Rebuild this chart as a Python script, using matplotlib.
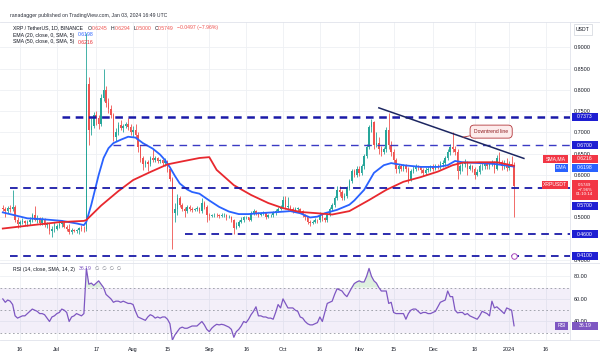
import numpy as np
import matplotlib
matplotlib.use('Agg')
import matplotlib.pyplot as plt
import matplotlib.dates as mdates
from matplotlib.patches import Rectangle
from matplotlib.lines import Line2D

plt.rcParams['font.family'] = ['Liberation Sans', 'DejaVu Sans']
plt.rcParams['lines.scale_dashes'] = False

W, H = 600, 357

# XRP/USDT daily candles 2023-06-09 .. 2024-01-03, open = previous close
first_open = 0.522
close = [
    0.520, 0.515, 0.522, 0.520, 0.525, 0.495, 0.485, 0.490, 0.492, 0.486, 0.490, 0.495, 0.505, 0.495, 0.498, 0.487, 0.493, 0.482, 0.485, 0.468, 0.472, 0.473,
    0.480, 0.485, 0.488, 0.478, 0.472, 0.466, 0.470, 0.468, 0.470, 0.475, 0.473, 0.472, 0.815, 0.705, 0.715, 0.742, 0.735, 0.720, 0.780, 0.800, 0.770, 0.755, 0.740, 0.690, 0.700, 0.718, 0.710, 0.715, 0.720, 0.712, 0.700,
    0.705, 0.695, 0.665, 0.640, 0.625, 0.630, 0.625, 0.640, 0.635, 0.640, 0.632, 0.635, 0.628, 0.632, 0.615, 0.590, 0.510, 0.520, 0.545, 0.530, 0.520, 0.515, 0.525, 0.520, 0.518, 0.520, 0.522, 0.515, 0.535, 0.525, 0.505,
    0.503, 0.505, 0.507, 0.505, 0.503, 0.505, 0.506, 0.500, 0.502, 0.495, 0.475, 0.480, 0.490, 0.495, 0.500, 0.500, 0.495, 0.510, 0.515, 0.510, 0.505, 0.510, 0.512, 0.500, 0.505, 0.505, 0.510, 0.515, 0.520, 0.525,
    0.540, 0.525, 0.525, 0.520, 0.515, 0.520, 0.520, 0.515, 0.505, 0.500, 0.490, 0.488, 0.490, 0.495, 0.493, 0.505, 0.498, 0.495, 0.505, 0.520, 0.530, 0.545, 0.565, 0.560, 0.545, 0.550, 0.570, 0.585, 0.610, 0.600, 0.615,
    0.605, 0.620, 0.645, 0.665, 0.712, 0.725, 0.670, 0.675, 0.660, 0.655, 0.660, 0.705, 0.670, 0.655, 0.635, 0.615, 0.620, 0.615, 0.622, 0.615, 0.590, 0.610, 0.615, 0.620, 0.618, 0.612, 0.605, 0.612, 0.615, 0.620,
    0.615, 0.622, 0.620, 0.625, 0.628, 0.640, 0.655, 0.665, 0.660, 0.655, 0.610, 0.620, 0.625, 0.630, 0.615, 0.620, 0.615, 0.600, 0.607, 0.620, 0.622, 0.625, 0.620, 0.625, 0.630, 0.615, 0.640, 0.630, 0.620, 0.620, 0.616,
    0.627, 0.6245, 0.5749,
]
high = [
    0.530, 0.525, 0.528, 0.530, 0.565, 0.530, 0.500, 0.495, 0.498, 0.495, 0.493, 0.500, 0.510, 0.527, 0.505, 0.502, 0.500, 0.498, 0.490, 0.487, 0.480, 0.490,
    0.485, 0.495, 0.495, 0.492, 0.482, 0.484, 0.475, 0.474, 0.474, 0.478, 0.482, 0.480, 0.935, 0.830, 0.735, 0.748, 0.750, 0.742, 0.790, 0.850, 0.810, 0.780, 0.765, 0.745, 0.710, 0.725, 0.730, 0.720, 0.725, 0.735, 0.720,
    0.715, 0.720, 0.700, 0.670, 0.645, 0.635, 0.635, 0.645, 0.662, 0.645, 0.642, 0.638, 0.637, 0.640, 0.635, 0.618, 0.595, 0.535, 0.555, 0.550, 0.535, 0.525, 0.530, 0.530, 0.524, 0.523, 0.526, 0.525, 0.545, 0.538, 0.530,
    0.510, 0.508, 0.510, 0.510, 0.508, 0.510, 0.510, 0.508, 0.505, 0.503, 0.497, 0.490, 0.495, 0.500, 0.503, 0.503, 0.502, 0.515, 0.520, 0.518, 0.512, 0.514, 0.515, 0.513, 0.508, 0.508, 0.515, 0.520, 0.525, 0.530,
    0.550, 0.550, 0.548, 0.530, 0.525, 0.525, 0.524, 0.522, 0.518, 0.508, 0.502, 0.495, 0.495, 0.498, 0.497, 0.512, 0.507, 0.502, 0.508, 0.525, 0.535, 0.550, 0.575, 0.575, 0.565, 0.558, 0.575, 0.590, 0.615, 0.615, 0.620,
    0.620, 0.625, 0.650, 0.672, 0.718, 0.732, 0.728, 0.700, 0.690, 0.668, 0.667, 0.712, 0.745, 0.680, 0.660, 0.640, 0.625, 0.625, 0.626, 0.625, 0.618, 0.615, 0.620, 0.626, 0.624, 0.622, 0.616, 0.618, 0.620, 0.624,
    0.625, 0.626, 0.626, 0.632, 0.635, 0.645, 0.660, 0.672, 0.700, 0.668, 0.660, 0.626, 0.630, 0.637, 0.632, 0.625, 0.624, 0.618, 0.615, 0.625, 0.628, 0.630, 0.628, 0.630, 0.636, 0.632, 0.648, 0.655, 0.635, 0.635, 0.640,
    0.632, 0.645, 0.6294,
]
low = [
    0.515, 0.500, 0.510, 0.512, 0.515, 0.490, 0.475, 0.478, 0.485, 0.482, 0.480, 0.483, 0.490, 0.492, 0.488, 0.483, 0.482, 0.478, 0.476, 0.462, 0.455, 0.465,
    0.470, 0.475, 0.478, 0.475, 0.468, 0.460, 0.462, 0.465, 0.464, 0.462, 0.468, 0.466, 0.468, 0.670, 0.695, 0.710, 0.718, 0.708, 0.715, 0.775, 0.760, 0.745, 0.735, 0.680, 0.680, 0.695, 0.705, 0.700, 0.710, 0.705, 0.695,
    0.690, 0.685, 0.655, 0.630, 0.612, 0.618, 0.610, 0.620, 0.630, 0.630, 0.628, 0.628, 0.622, 0.620, 0.608, 0.585, 0.425, 0.490, 0.505, 0.525, 0.515, 0.500, 0.510, 0.515, 0.512, 0.515, 0.516, 0.510, 0.510, 0.520, 0.490,
    0.495, 0.500, 0.502, 0.500, 0.498, 0.500, 0.500, 0.495, 0.498, 0.490, 0.462, 0.472, 0.478, 0.487, 0.490, 0.496, 0.492, 0.492, 0.505, 0.505, 0.500, 0.503, 0.507, 0.497, 0.498, 0.500, 0.502, 0.506, 0.512, 0.518,
    0.522, 0.520, 0.518, 0.515, 0.510, 0.512, 0.515, 0.510, 0.500, 0.495, 0.485, 0.480, 0.484, 0.488, 0.488, 0.490, 0.492, 0.490, 0.490, 0.503, 0.515, 0.525, 0.540, 0.550, 0.540, 0.540, 0.545, 0.565, 0.580, 0.595, 0.595,
    0.598, 0.600, 0.615, 0.640, 0.660, 0.700, 0.660, 0.665, 0.650, 0.645, 0.650, 0.655, 0.660, 0.645, 0.625, 0.605, 0.605, 0.610, 0.610, 0.608, 0.580, 0.585, 0.605, 0.610, 0.612, 0.605, 0.598, 0.600, 0.608, 0.610,
    0.610, 0.612, 0.614, 0.615, 0.618, 0.622, 0.635, 0.648, 0.655, 0.648, 0.590, 0.602, 0.610, 0.618, 0.600, 0.612, 0.608, 0.590, 0.598, 0.603, 0.612, 0.615, 0.615, 0.615, 0.620, 0.605, 0.612, 0.625, 0.612, 0.615, 0.610,
    0.612, 0.620, 0.500,
]

# EMA 20 and SMA 50 (day index from 2023-06-09, value)
ema_day = [0, 5, 10, 16, 24, 30, 33, 34, 36, 39, 41, 43, 45, 48, 51, 54, 57, 61, 64, 66, 68, 70, 72, 75, 77, 80, 84, 88, 92, 96,
           100, 104, 110, 117, 121, 125, 128, 131, 136, 141, 143, 147, 151, 155, 158, 163, 170, 177, 181, 184, 187, 194, 200, 208]
ema_val = [0.512, 0.505, 0.498, 0.496, 0.492, 0.486, 0.482, 0.490, 0.530, 0.600, 0.640, 0.663, 0.675, 0.683, 0.690, 0.688, 0.675, 0.662, 0.648, 0.635,
           0.618, 0.598, 0.580, 0.566, 0.560, 0.556, 0.540, 0.525, 0.514, 0.508, 0.508, 0.510, 0.512, 0.515, 0.510, 0.500, 0.502, 0.510, 0.518, 0.530,
           0.540, 0.565, 0.605, 0.623, 0.628, 0.623, 0.619, 0.619, 0.623, 0.633, 0.630, 0.628, 0.626, 0.6198]
sma_day = [0, 3, 12, 23, 33, 34, 40, 47, 53, 60, 67, 73, 80, 84, 87, 94, 101, 108, 114, 121, 128, 134, 141, 149, 156, 163, 170, 177, 183, 187,
           194, 201, 208]
sma_val = [0.474, 0.476, 0.482, 0.489, 0.492, 0.494, 0.528, 0.562, 0.588, 0.607, 0.625, 0.632, 0.640, 0.642, 0.612, 0.576, 0.553, 0.534, 0.522, 0.513,
           0.510, 0.507, 0.515, 0.541, 0.565, 0.584, 0.595, 0.608, 0.623, 0.629, 0.630, 0.630, 0.6216]

rsi = [
    60, 57, 59, 58, 55, 45, 43, 44, 45, 45,
    47, 49, 51, 50, 49, 47, 47, 46, 43, 40,
    44, 45, 47, 48, 51, 50, 48, 40, 44, 45,
    47, 46, 45, 47, 87, 73, 74, 72, 74, 76,
    73, 70, 64, 62, 60, 57, 58, 58, 57, 58,
    57, 56, 56, 55, 49, 44, 43, 42, 41, 44,
    46, 45, 43, 44, 43, 44, 44, 42, 38, 23.5,
    28, 31, 34, 35, 34, 34, 35, 36, 36, 36,
    38, 40, 37, 33, 31, 34, 36, 37.5, 37, 37.5,
    37, 36, 35, 33, 26, 31, 33, 36, 40, 39,
    42, 46, 49, 53, 45, 45, 44, 44, 43, 43,
    42, 48, 55, 52, 60, 56, 52, 52, 52, 50,
    49, 44, 43, 40, 38, 37, 37, 38, 39, 44,
    40, 48, 56, 57, 58, 64, 69, 68, 67, 64,
    62, 66, 70, 73.6, 75, 76, 75, 75, 80, 87,
    80, 76, 74, 70, 67, 67, 67, 56, 57, 48,
    47, 47, 47, 47, 42, 47, 50, 51, 51, 49,
    47, 48, 48, 47, 47, 48, 49, 53, 57, 58,
    59, 67, 62, 62, 50, 47.6, 48, 48, 46, 47,
    45, 44, 43, 42, 45, 49, 48, 47, 45, 58,
    52, 53, 51, 49, 47, 52, 51, 50, 36.19,
]

levels = [0.7373, 0.6700, 0.5700, 0.4600, 0.4100]
level_from = ['2023-07-03', '2023-07-24', '2023-06-12', '2023-08-22', '2023-06-12']
trend_dates = ['2023-11-09', '2024-01-07']
trend_vals = [0.758, 0.639]

price_ticks = [0.40, 0.50, 0.60, 0.65, 0.70, 0.75, 0.80, 0.85, 0.90]
price_grid = [0.45, 0.55]
rsi_ticks = [40, 60, 80]
tick_dates = ['2023-06-16', '2023-07-01', '2023-07-17', '2023-08-01', '2023-08-15', '2023-09-01', '2023-09-16', '2023-10-01',
              '2023-10-16', '2023-11-01', '2023-11-15', '2023-12-01', '2023-12-18', '2024-01-01', '2024-01-16']
tick_labels = ['16', 'Jul', '17', 'Aug', '15', 'Sep', '16', 'Oct', '16', 'Nov', '15', 'Dec', '18', '2024', '16']

UP, DOWN = '#26a69a', '#ef5350'
BLUE, RED, PURPLE = '#2962ff', '#e8282e', '#7e57c2'
LEVEL = '#1a1aa8'
TXT = '#131722'

days = np.arange(np.datetime64('2023-06-09'), np.datetime64('2024-01-04'))
x = mdates.date2num(days)
c = np.array(close)
o = np.concatenate([[first_open], c[:-1]])
hi = np.array(high)
lo = np.array(low)
col = np.where(c >= o, UP, DOWN)

fig = plt.figure(figsize=(6, 3.57), dpi=100)


def px_rect(x0, y0, x1, y1):
    return [x0 / W, 1 - y1 / H, (x1 - x0) / W, (y1 - y0) / H]


ax = fig.add_axes(px_rect(0, 22, 570, 263))
ax_r = fig.add_axes(px_rect(0, 263, 570, 340), sharex=ax)

d0 = mdates.date2num(np.datetime64('2023-06-16'))
ax.set_xlim(d0 - 20 / 2.458, d0 + 550 / 2.458)
ax.set_ylim(0.3929, 0.96)
ax_r.set_ylim(23.6, 91.8)

for a in (ax, ax_r):
    for s in a.spines.values():
        s.set_visible(False)
    a.grid(True, which='both', color='#eef0f4', lw=0.6)
    a.set_axisbelow(True)
    a.yaxis.tick_right()
    a.tick_params(which='both', length=0, labelsize=3.9, colors=TXT, pad=3)

ax.set_yticks(price_ticks)
ax.set_yticks(price_grid, minor=True)
ax.yaxis.set_major_formatter(plt.FuncFormatter(lambda v, p: f'{v:.4f}'))
ax_r.set_yticks(rsi_ticks)
ax_r.yaxis.set_major_formatter(plt.FuncFormatter(lambda v, p: f'{v:.2f}'))
tx = mdates.date2num(np.array(tick_dates, dtype='datetime64[D]'))
ax_r.set_xticks(tx)
ax_r.set_xticklabels(tick_labels)
ax.tick_params(labelbottom=False)
ax_r.tick_params(axis='x', pad=5)

# candles
ax.vlines(x, lo, hi, colors=col, lw=0.6, zorder=3)
body = np.maximum(np.abs(c - o), 0.0015)
ax.bar(x, body, bottom=np.minimum(o, c), width=0.62, color=col, lw=0, zorder=3)

# moving averages
ax.plot(x[ema_day], ema_val, color=BLUE, lw=1.3, zorder=4)
ax.plot(x[sma_day], sma_val, color=RED, lw=1.3, zorder=4)

# horizontal levels
xr = ax.get_xlim()[1]
lw_lv = [1.8, 1.0, 1.3, 1.3, 1.3]
cl_lv = [LEVEL, '#3a3ac4', LEVEL, LEVEL, LEVEL]
for v, f, lw, cc in zip(levels, level_from, lw_lv, cl_lv):
    xf = mdates.date2num(np.datetime64(f))
    ax.plot([xf, xr], [v, v], color=cc, lw=lw, ls=(0, (5.5, 4.0)), zorder=5)

# downtrend line + callout
td = mdates.date2num(np.array(trend_dates, dtype='datetime64[D]'))
ax.plot(td, trend_vals, color='#1c2661', lw=1.1, zorder=5)
tip = (td[0] + (td[1] - td[0]) * 0.58, trend_vals[0] + (trend_vals[1] - trend_vals[0]) * 0.58)
ax.annotate('Downtrend line', xy=tip, xytext=(8, 4), textcoords='offset points', fontsize=3.6, color='#8e1b1f',
            ha='left', va='center', zorder=7,
            bbox=dict(boxstyle='round,pad=0.8', fc='#fdecec', ec='#b3363a', lw=0.6),
            arrowprops=dict(arrowstyle='-', color='#b3363a', lw=0.6, shrinkA=0, shrinkB=0))

# event icon on the 0.41 line
ax.scatter([x[-1]], [0.41], s=16, marker='o', fc='white', ec='#ab47bc', lw=0.7, zorder=8, clip_on=False)

# RSI pane
rs = np.array(rsi)
ax_r.axhspan(30, 70, color=PURPLE, alpha=0.09, lw=0)
for lv in (70, 50, 30):
    ax_r.axhline(lv, color='#9598a1', lw=0.6, ls=(0, (1.2, 1.8)))
ax_r.fill_between(x, 70, rs, where=rs > 70, interpolate=True, color='#4caf50', alpha=0.18, lw=0)
ax_r.plot(x, rs, color=PURPLE, lw=0.9, zorder=4)

# frame lines
for seg in [((0, 600), (H - 22, H - 22)), ((0, 600), (H - 263, H - 263)), ((0, 600), (H - 340, H - 340)),
            ((570, 570), (H - 22, H - 340))]:
    fig.add_artist(Line2D(np.array(seg[0]) / W, np.array(seg[1]) / H, color='#e0e3eb', lw=0.6))


def tag(a, val, s, fc, dy=0, x0=572, w=26, h=8, tc='white', ec='none', size=3.7):
    yd = a.transData.transform((0, val))[1] - dy
    fig.add_artist(Rectangle((x0 / W, (yd - h / 2) / H), w / W, h / H, transform=fig.transFigure,
                             fc=fc, ec=ec, lw=0.5, zorder=10))
    fig.text((x0 + w / 2) / W, yd / H, s, ha='center', va='center', fontsize=size, color=tc, zorder=11)


LB = '#1e1ed2'
for v in (0.7373, 0.6700, 0.4600, 0.4100):
    tag(ax, v, f'{v:.4f}', LB)
tag(ax, 0.6216, 'SMA,MA', '#f23645', dy=-7, x0=543, w=25)
tag(ax, 0.6216, '0.6216', '#f23645', dy=-7)
tag(ax, 0.6198, 'EMA', BLUE, dy=1, x0=555, w=13)
tag(ax, 0.6198, '0.6198', BLUE, dy=1)
tag(ax, 0.5749, 'XRPUSDT', '#f23645', dy=-1, x0=542, w=26)
tag(ax, 0.5749, '0.5749\n−7.96%\n01:10:14', '#f23645', dy=4, h=20, size=3.2)
tag(ax, 0.5700, '0.5700', LB, dy=18)
tag(ax_r, rsi[-1], 'RSI', PURPLE, x0=555, w=13)
tag(ax_r, rsi[-1], f'{rsi[-1]:.2f}', PURPLE)
fig.text(583 / W, 1 - 29.5 / H, 'USDT', ha='center', va='center', fontsize=3.7, color=TXT,
         bbox=dict(boxstyle='square,pad=0.5', fc='white', ec='#d1d4dc', lw=0.5))

renderer = fig.canvas.get_renderer()


def seq_text(x_px, y_px, parts, size=3.7):
    for s, cc, gap in parts:
        t = fig.text(x_px / W, 1 - y_px / H, s, color=cc, fontsize=size, va='center', ha='left')
        x_px += t.get_window_extent(renderer).width + gap


fig.text(10 / W, 1 - 16 / H, 'ranadagger published on TradingView.com, Jan 03, 2024 16:49 UTC', fontsize=3.7,
         color='#2a2e39', va='center')
seq_text(13, 28, [('XRP / TetherUS, 1D, BINANCE', TXT, 5), ('O', TXT, 0), ('0.6245', DOWN, 3), ('H', TXT, 0),
                  ('0.6294', DOWN, 3), ('L', TXT, 0), ('0.5000', DOWN, 3), ('C', TXT, 0), ('0.5749', DOWN, 3),
                  ('−0.0497 (−7.96%)', DOWN, 0)])
seq_text(13, 35, [('EMA (20, close, 0, SMA, 5)', TXT, 4), ('0.6198', BLUE, 0)])
seq_text(13, 42, [('SMA (50, close, 0, SMA, 5)', TXT, 4), ('0.6216', RED, 0)])
seq_text(13, 269, [('RSI (14, close, SMA, 14, 2)', TXT, 4), ('36.19', PURPLE, 3), ('∅  ∅  ∅  ∅', '#787b86', 0)])

fig.savefig('out.png', dpi=100, facecolor='white')
